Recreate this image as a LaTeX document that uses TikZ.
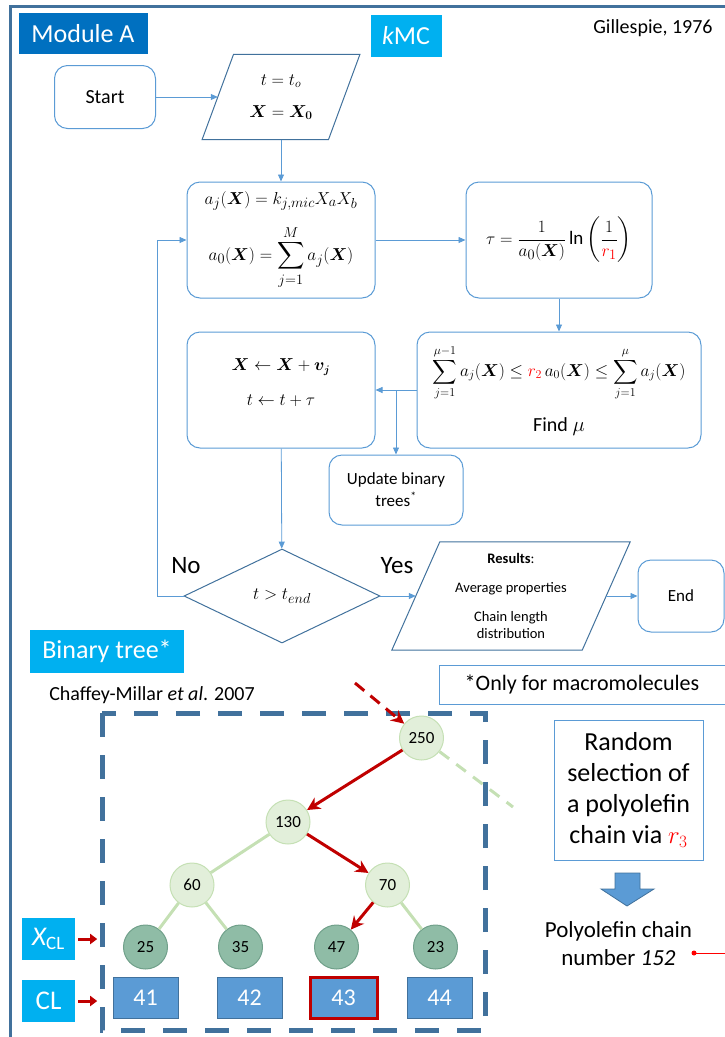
\documentclass[tikz,border=0pt]{standalone}
\usepackage{amsmath}
\usepackage{amssymb}
\usepackage{bm}
\usepackage{fontspec}
\setmainfont{Carlito}
\usepackage{tikz}
\usetikzlibrary{shapes.geometric,arrows.meta}

\definecolor{frameblue}{RGB}{65,113,156}
\definecolor{lineblue}{RGB}{91,155,213}
\definecolor{darkblue}{RGB}{0,112,192}
\definecolor{skyblue}{RGB}{0,176,240}
\definecolor{leafgreen}{RGB}{226,239,218}
\definecolor{edgegreen}{RGB}{197,224,180}
\definecolor{sagegreen}{RGB}{143,188,166}
\definecolor{sageedge}{RGB}{112,160,138}
\definecolor{darkred}{RGB}{192,0,0}

\begin{document}
\begin{tikzpicture}[x=1pt,y=-1pt,
  arr/.style={draw=lineblue,line width=0.8pt,-{Triangle[length=7pt,width=6pt]}},
  flow/.style={draw=lineblue,line width=1pt,rounded corners=13pt,align=center,inner sep=0pt},
  iotext/.style={align=center,inner sep=0pt},
  ioline/.style={draw=frameblue,line width=1pt},
  tagbox/.style={text=white,inner sep=0pt,align=center},
  midnode/.style={circle,draw=edgegreen,fill=leafgreen,line width=1pt,minimum size=44pt,inner sep=0pt,font=\fontsize{17}{19}\selectfont},
  leafnode/.style={circle,draw=sageedge,fill=sagegreen,line width=1pt,minimum size=44pt,inner sep=0pt,font=\fontsize{17}{19}\selectfont},
  cell/.style={draw=frameblue,fill=lineblue,text=white,line width=1pt,minimum width=65pt,minimum height=41pt,font=\fontsize{24}{26}\selectfont},
  hit/.style={draw=darkred,line width=3pt,-{Stealth[length=13pt,width=13pt]}},
  twig/.style={draw=edgegreen,line width=3pt}]
  \useasboundingbox (0,0) rectangle (725,1037);
  \draw[frameblue,line width=3pt] (10,1037) -- (10,6) -- (725,6);

  \node[tagbox,fill=darkblue,minimum width=129pt,minimum height=41pt,font=\fontsize{26}{28}\selectfont] (modA) at (83,33.5) {Module A};
  \node[tagbox,fill=skyblue,minimum width=71pt,minimum height=42pt,font=\fontsize{26}{28}\selectfont] (kmc) at (406,36) {\itshape k\upshape MC};
  \node[font=\fontsize{20}{24}\selectfont] (ref1) at (653,28) {Gillespie, 1976};

  \node[flow,minimum width=101pt,minimum height=63pt,font=\fontsize{20}{24}\selectfont] (start) at (105,97) {Start};
  \node[iotext,minimum width=126pt,minimum height=85pt,font=\fontsize{17}{20}\selectfont] (init) at (281,97) {$t=t_o$\\[12pt]$\bm{X}=\bm{X_0}$};
  \draw[ioline] ([xshift=-15.75pt]init.south west) -- ([xshift=15.75pt]init.north west) -- ([xshift=15.75pt]init.north east) -- ([xshift=-15.75pt]init.south east) -- cycle;
  \node[flow,minimum width=188pt,minimum height=116pt,font=\fontsize{19}{22}\selectfont] (rate) at (281,240) {$a_j(\bm{X}) = k_{j,mic}X_aX_b$\\[14pt]$\displaystyle a_0(\bm{X}) = \sum_{j=1}^{M} a_j(\bm{X})$};
  \node[flow,minimum width=186pt,minimum height=116pt,font=\fontsize{19}{22}\selectfont] (tau) at (559,240) {$\displaystyle\tau = \frac{1}{a_0(\bm{X})}\ln\left(\frac{1}{\color{red}r_1}\right)$};
  \node[flow,minimum width=284pt,minimum height=116pt,font=\fontsize{17}{20}\selectfont] (find) at (559,390) {$\displaystyle\sum_{j=1}^{\mu-1} a_j(\bm{X}) \le {\color{red}r_2}\,a_0(\bm{X}) \le \sum_{j=1}^{\mu} a_j(\bm{X})$\\[16pt]{\fontsize{20}{24}\selectfont Find $\mu$}};
  \node[flow,minimum width=188pt,minimum height=116pt,font=\fontsize{16}{19}\selectfont] (advance) at (281,390) {$\bm{X} \leftarrow \bm{X} + \bm{v_j}$\\[16pt]$t \leftarrow t + \tau$\\[-4pt]};
  \node[flow,minimum width=134pt,minimum height=70pt,font=\fontsize{17}{22}\selectfont] (bintree) at (396,490) {Update binary\\trees\textsuperscript{*}};
  \node[diamond,draw=frameblue,line width=1pt,minimum width=196pt,minimum height=94pt,inner sep=0pt,font=\fontsize{19}{22}\selectfont] (check) at (282,596) {$t > t_{end}$};
  \node[font=\fontsize{25}{28}\selectfont] (no) at (186,566) {No};
  \node[font=\fontsize{25}{28}\selectfont] (yes) at (397,566) {Yes};
  \node[iotext,minimum width=190pt,minimum height=108pt,font=\fontsize{14.5}{17}\selectfont] (res) at (511,596) {\textbf{Results}:\\[12pt]Average properties\\[12pt]Chain length\\distribution};
  \draw[ioline] ([xshift=-24pt]res.south west) -- ([xshift=24pt]res.north west) -- ([xshift=24pt]res.north east) -- ([xshift=-24pt]res.south east) -- cycle;
  \node[flow,minimum width=86pt,minimum height=72pt,font=\fontsize{17}{20}\selectfont] (stop) at (681,596) {End};

  \draw[arr] (start) -- (init);
  \draw[arr] (init) -- (rate);
  \draw[arr] (rate) -- (tau);
  \draw[arr] (tau) -- (find);
  \draw[arr] (find) -- (advance);
  \draw[arr] (bintree.north |- find.west) -- (bintree.north);
  \draw[arr] (advance) -- (check);
  \draw[arr] (check.west) -- ++(-26,0) |- (rate.west);
  \draw[arr] (check) -- (res);
  \draw[arr] (res) -- (stop);

  \node[tagbox,fill=skyblue,minimum width=154pt,minimum height=43pt,font=\fontsize{26}{28}\selectfont] (bintag) at (107,651.5) {Binary tree*};
  \node[font=\fontsize{20}{22}\selectfont] (ref2) at (152,695) {Chaffey-Millar \textit{et al}. 2007};
  \node[draw=lineblue,line width=1pt,fill=white,minimum width=286pt,minimum height=39pt,font=\fontsize{22}{26}\selectfont] (note) at (582,684.5) {*Only for macromolecules};

  \draw[frameblue,line width=5pt,dash pattern=on 24pt off 18pt] (102,713) rectangle (485,1030);

  \node[midnode] (n250) at (421.5,738) {250};
  \node[midnode] (n130) at (288,822) {130};
  \node[midnode] (n60) at (192,885) {60};
  \node[midnode] (n70) at (387.5,885) {70};
  \node[leafnode] (n25) at (145.5,947) {25};
  \node[leafnode] (n35) at (240.5,947) {35};
  \node[leafnode] (n47) at (336.5,947) {47};
  \node[leafnode] (n23) at (435.5,947) {23};
  \coordinate (cut) at (513,807);
  \coordinate (entry) at (355,683);
  \draw[twig] (n130) -- (n60);
  \draw[twig] (n60) -- (n25);
  \draw[twig] (n60) -- (n35);
  \draw[twig] (n70) -- (n23);
  \draw[twig,dash pattern=on 12pt off 9pt] (n250) -- (cut);
  \draw[hit] (n250) -- (n130);
  \draw[hit] (n130) -- (n70);
  \draw[hit] (n70) -- (n47);
  \draw[hit,dash pattern=on 12pt off 8pt] (entry) -- (n250);

  \node[cell] (c41) at (145.5,997.5) {41};
  \node[cell] (c42) at (249.5,997.5) {42};
  \node[cell,draw=darkred,line width=3pt,minimum width=67pt] (c43) at (343.5,997.5) {43};
  \node[cell] (c44) at (439.5,997.5) {44};

  \node[tagbox,fill=skyblue,minimum width=53pt,minimum height=42pt,font=\fontsize{27}{29}\selectfont] (xcl) at (48.5,939) {\itshape X\upshape\textsubscript{CL}};
  \node[tagbox,fill=skyblue,minimum width=53pt,minimum height=42pt,font=\fontsize{27}{29}\selectfont] (cl) at (48.5,1001) {CL};
  \draw[darkred,line width=3pt,-{Triangle[length=7pt,width=10pt]}] ([xshift=3pt]xcl.east) -- ([xshift=22pt]xcl.east);
  \draw[darkred,line width=3pt,-{Triangle[length=7pt,width=10pt]}] ([xshift=3pt]cl.east) -- ([xshift=22pt]cl.east);

  \node[draw=lineblue,line width=1pt,minimum width=149pt,minimum height=140pt,align=center,font=\fontsize{26}{31}\selectfont] (pick) at (628.5,790) {Random\\selection of\\a polyolefin\\chain via ${\color{red}r_3}$};
  \draw[frameblue,fill=lineblue,line width=0.8pt] (615,873) -- (640,873) -- (640,889) -- (654,889) -- (627,906) -- (601,889) -- (615,889) -- cycle;
  \node[align=center,font=\fontsize{23}{28}\selectfont] (chain) at (618.5,944) {Polyolefin chain\\number \textit{152}};
  \coordinate (dot) at (694,953);
  \fill[red] (dot) circle (2.5pt);
  \draw[red,line width=1pt] (dot) -- (725,953);
\end{tikzpicture}
\end{document}
